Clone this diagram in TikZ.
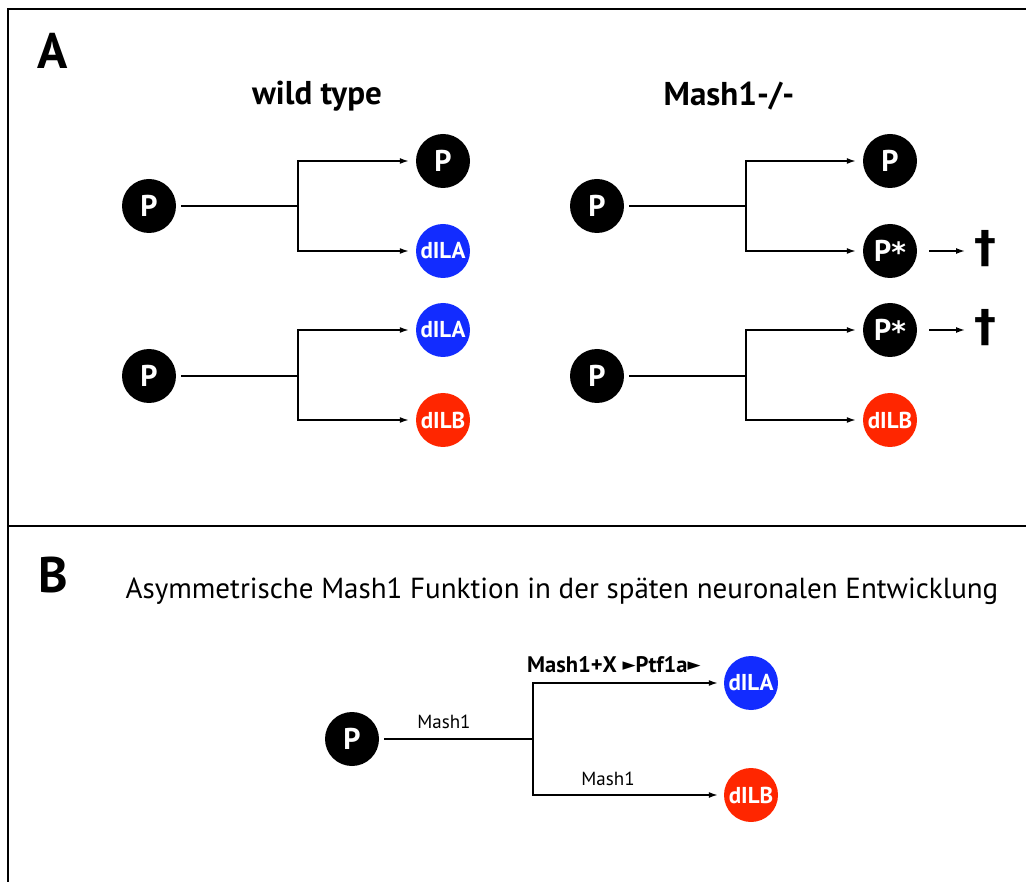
\documentclass[tikz,border=0pt]{standalone}
\usepackage{fontspec}
\setmainfont{PT Sans}
\newfontfamily\symfont{DejaVu Sans}
\usetikzlibrary{arrows.meta}
\definecolor{cellblue}{RGB}{18,44,255}
\definecolor{cellred}{RGB}{255,38,0}
\tikzset{
  cell/.style={circle, inner sep=0pt, minimum size=54pt, text=white, font=\bfseries\fontsize{23}{23}\selectfont},
  pcell/.style={cell, fill=black, font=\bfseries\fontsize{30}{30}\selectfont},
  acell/.style={cell, fill=cellblue},
  bcell/.style={cell, fill=cellred},
  link/.style={line width=1.5pt},
  arr/.style={line width=1.5pt, -{Latex[length=9pt,width=6pt]}},
  frame/.style={line width=2pt},
  heading/.style={font=\bfseries\fontsize{33}{38}\selectfont},
  panel/.style={font=\bfseries\fontsize{50}{50}\selectfont},
  dagger/.style={font=\symfont\bfseries\fontsize{44}{44}\selectfont},
  small/.style={font=\fontsize{19}{21}\selectfont}
}
\newcommand{\pstar}{P\raisebox{-1pt}{\symfont\bfseries\fontsize{28}{28}\selectfont *}}
\newcommand{\tri}{\raisebox{2pt}{\symfont\fontsize{17}{17}\selectfont ►}}
\begin{document}
\begin{tikzpicture}[x=1pt,y=-1pt]
\useasboundingbox (0,0) rectangle (1026,882);
% frame
\draw[frame] (8,882) -- (8,9.5) -- (1026,9.5);
\draw[frame] (8,526) -- (1026,526);
% Panel A
\node[panel] (lblA) at (53,51) {A};
\node[heading] (wt) at (317,96) {wild type};
\node[heading] (mut) at (729,96) {Mash1-/-};
% wild type upper
\node[pcell] (w1) at (149,206) {P};
\node[pcell] (w1a) at (443,161) {P};
\node[acell] (w1b) at (443,251) {dILA};
\coordinate (w1j) at (298,206);
\draw[link] (w1.east) ++(5,0) -- (w1j);
\draw[arr] (w1j) |- ([xshift=-7pt]w1a.west);
\draw[arr] (w1j) |- ([xshift=-7pt]w1b.west);
% wild type lower
\node[pcell] (w2) at (149,376) {P};
\node[acell] (w2a) at (443,330) {dILA};
\node[bcell] (w2b) at (443,420) {dILB};
\coordinate (w2j) at (298,376);
\draw[link] (w2.east) ++(5,0) -- (w2j);
\draw[arr] (w2j) |- ([xshift=-7pt]w2a.west);
\draw[arr] (w2j) |- ([xshift=-7pt]w2b.west);
% mutant upper
\node[pcell] (m1) at (597,206) {P};
\node[pcell] (m1a) at (890,161) {P};
\node[pcell] (m1b) at (890,251) {\pstar};
\coordinate (m1j) at (746,206);
\draw[link] (m1.east) ++(5,0) -- (m1j);
\draw[arr] (m1j) |- ([xshift=-7pt]m1a.west);
\draw[arr] (m1j) |- ([xshift=-7pt]m1b.west);
\node[dagger] (d1) at (985,249) {†};
\draw[arr] ([xshift=12pt]m1b.east) -- ([xshift=-20pt]d1.center |- m1b.east);
% mutant lower
\node[pcell] (m2) at (597,376) {P};
\node[pcell] (m2a) at (890,330) {\pstar};
\node[bcell] (m2b) at (890,420) {dILB};
\coordinate (m2j) at (746,376);
\draw[link] (m2.east) ++(5,0) -- (m2j);
\draw[arr] (m2j) |- ([xshift=-7pt]m2a.west);
\draw[arr] (m2j) |- ([xshift=-7pt]m2b.west);
\node[dagger] (d2) at (985,328) {†};
\draw[arr] ([xshift=12pt]m2a.east) -- ([xshift=-20pt]d2.center |- m2a.east);
% Panel B
\node[panel] (lblB) at (53,575) {B};
\node[font=\fontsize{29}{32}\selectfont] (title) at (562,591) {Asymmetrische Mash1 Funktion in der späten neuronalen Entwicklung};
\node[pcell] (b0) at (352,739) {P};
\node[acell] (ba) at (751,683) {dILA};
\node[bcell] (bb) at (751,795) {dILB};
\coordinate (bj) at (533,739);
\draw[link] (b0.east) ++(5,0) -- (bj);
\node[small] (lm1) at (444,722) {Mash1};
\draw[arr] (bj) |- ([xshift=-6pt]ba.west);
\draw[arr] (bj) |- ([xshift=-6pt]bb.west);
\node[small] (lm2) at (608,779) {Mash1};
\node[font=\bfseries\fontsize{22.5}{24}\selectfont, anchor=base west, inner sep=0pt] (lx) at (527,672) {Mash1+X \tri Ptf1a\tri};
\end{tikzpicture}
\end{document}
